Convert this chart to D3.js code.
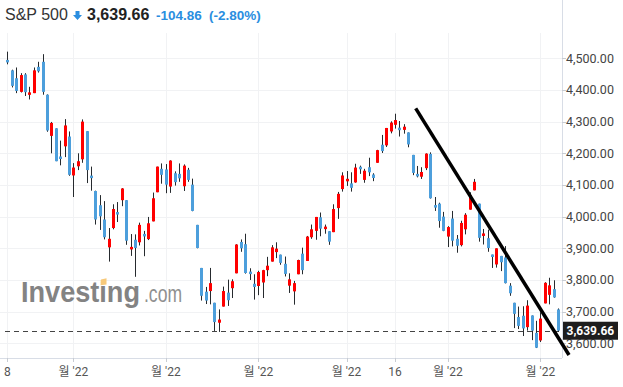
<!DOCTYPE html>
<html>
<head>
<meta charset="utf-8">
<script src="https://cdn.jsdelivr.net/npm/d3@7"></script>
<style>
  body { margin: 0; background: #fff; }
  svg { display: block; }
</style>
</head>
<body>
<div id="chart"></div>
<script>
// S&P 500 daily candles, Apr 8 - Oct 7 2022
var dates = ["04-08","04-11","04-12","04-13","04-14","04-18","04-19","04-20","04-21","04-22",
  "04-25","04-26","04-27","04-28","04-29","05-02","05-03","05-04","05-05","05-06",
  "05-09","05-10","05-11","05-12","05-13","05-16","05-17","05-18","05-19","05-20",
  "05-23","05-24","05-25","05-26","05-27","05-31","06-01","06-02","06-03","06-06",
  "06-07","06-08","06-09","06-10","06-13","06-14","06-15","06-16","06-17","06-21",
  "06-22","06-23","06-24","06-27","06-28","06-29","06-30","07-01","07-05","07-06",
  "07-07","07-08","07-11","07-12","07-13","07-14","07-15","07-18","07-19","07-20",
  "07-21","07-22","07-25","07-26","07-27","07-28","07-29","08-01","08-02","08-03",
  "08-04","08-05","08-08","08-09","08-10","08-11","08-12","08-15","08-16","08-17",
  "08-18","08-19","08-22","08-23","08-24","08-25","08-26","08-29","08-30","08-31",
  "09-01","09-02","09-06","09-07","09-08","09-09","09-12","09-13","09-14","09-15",
  "09-16","09-19","09-20","09-21","09-22","09-23","09-26","09-27","09-28","09-29",
  "09-30","10-03","10-04","10-05","10-06","10-07"]

var open = [4494,4462,4437,4394,4449,4385,4390,4473,4489,4385,
  4255,4279,4188,4222,4253,4130,4159,4181,4270,4128,
  4081,4036,3991,3903,3964,4013,4052,4052,3900,3927,
  3919,3942,3929,3985,4077,4151,4149,4095,4137,4135,
  4096,4148,4101,3974,3838,3763,3765,3728,3665,3716,
  3760,3774,3821,3920,3913,3826,3788,3781,3792,3831,
  3858,3888,3880,3851,3782,3764,3818,3883,3860,3935,
  3955,3998,3962,3954,3951,4027,4087,4112,4105,4108,
  4155,4116,4156,4133,4170,4227,4225,4269,4290,4280,
  4274,4266,4195,4133,4126,4153,4198,4034,4041,4000,
  3937,3994,3930,3910,3960,4022,4083,4041,3940,3932,
  3880,3849,3876,3871,3782,3728,3683,3687,3651,3688,
  3633,3609,3726,3753,3771,3707]

var high = [4521,4464,4471,4453,4453,4410,4471,4489,4513,4386,
  4299,4279,4240,4308,4269,4169,4200,4307,4270,4158,
  4082,4068,4049,3964,4039,4046,4090,4052,3945,3944,
  3981,3955,3999,4076,4158,4168,4166,4178,4143,4168,
  4165,4154,4120,3974,3838,3778,3838,3728,3707,3779,
  3801,3802,3913,3928,3946,3837,3818,3829,3832,3873,
  3910,3919,3880,3874,3821,3797,3864,3902,3939,3975,
  3999,4013,3975,3954,4039,4078,4140,4144,4140,4167,
  4161,4151,4186,4137,4211,4258,4280,4301,4325,4302,
  4292,4266,4195,4160,4156,4200,4203,4062,4044,4015,
  3970,4018,3942,3987,4011,4077,4119,4041,3961,3959,
  3880,3900,3876,3907,3790,3728,3716,3717,3736,3688,
  3671,3698,3793,3807,3799,3710]

var low = [4481,4408,4390,4392,4381,4370,4390,4455,4385,4268,
  4200,4175,4162,4188,4129,4062,4147,4170,4106,4082,
  3975,3958,3928,3858,3960,3983,4033,3911,3876,3810,
  3909,3875,3926,3985,4077,4104,4074,4075,4098,4110,
  4081,4110,4017,3900,3735,3724,3723,3639,3636,3716,
  3718,3743,3821,3889,3820,3800,3738,3752,3743,3812,
  3858,3869,3848,3811,3759,3722,3818,3818,3860,3930,
  3927,3938,3946,3911,3951,3993,4079,4097,4079,4107,
  4135,4107,4128,4112,4170,4201,4220,4263,4278,4253,
  4262,4219,4131,4124,4119,4147,4057,4018,3965,3954,
  3904,3906,3886,3906,3944,4022,4083,3921,3912,3889,
  3838,3839,3828,3789,3750,3648,3645,3623,3640,3610,
  3585,3604,3726,3723,3744,3636]

var close = [4488,4413,4397,4447,4393,4392,4462,4459,4394,4272,
  4296,4175,4184,4288,4132,4155,4175,4300,4147,4123,
  3991,4001,3935,3930,4024,4008,4089,3924,3901,3901,
  3974,3941,3979,4058,4158,4132,4101,4177,4109,4121,
  4161,4116,4018,3901,3750,3735,3790,3667,3675,3765,
  3736,3796,3912,3900,3822,3819,3778,3825,3831,3845,
  3903,3899,3854,3819,3802,3790,3863,3831,3937,3960,
  3999,3962,3967,3921,4024,4072,4130,4119,4091,4155,
  4152,4145,4140,4122,4210,4207,4280,4297,4305,4274,
  4284,4228,4138,4129,4141,4199,4058,4031,3986,3955,
  3967,3924,3908,3980,4006,4067,4110,3933,3946,3901,
  3873,3900,3856,3790,3758,3693,3655,3647,3719,3640,
  3586,3678,3791,3783,3745,3640]

var lastPrice = 3639.66
var yTicks = [3600, 3700, 3800, 3900, 4000, 4100, 4200, 4300, 4400, 4500]
var xTickDates = ["04-08","05-02","06-01","07-01","08-01","08-16","09-01","10-03"]
var xTickLabels = ["8", "월 '22", "월 '22", "월 '22", "월 '22", "16", "월 '22", "월 '22"]

// hand drawn trend line (index on the date axis, price)
var trendIdx = [92.7, 127.5]
var trendPrice = [4342, 3563]

var width = 623, height = 387
var plotRight = 562, plotTop = 33, plotBottom = 358

var svg = d3.select("#chart")
  .append("svg")
    .attr("width", width)
    .attr("height", height)

var x = d3.scaleLinear()
  .domain([0, dates.length - 1])
  .range([7.3, 558])

var y = d3.scaleLinear()
  .domain([3600, 4500])
  .range([343.3, 58.3])

// grid
svg.append("g")
  .selectAll("line")
  .data(yTicks)
  .enter()
  .append("line")
    .attr("x1", 0)
    .attr("x2", plotRight)
    .attr("y1", function(d){ return Math.round(y(d)) + 0.5 })
    .attr("y2", function(d){ return Math.round(y(d)) + 0.5 })
    .attr("stroke", "#f1f2f4")

svg.append("g")
  .selectAll("line")
  .data(xTickDates)
  .enter()
  .append("line")
    .attr("x1", function(d){ return Math.round(x(dates.indexOf(d))) + 0.5 })
    .attr("x2", function(d){ return Math.round(x(dates.indexOf(d))) + 0.5 })
    .attr("y1", plotTop)
    .attr("y2", plotBottom)
    .attr("stroke", "#f1f2f4")

// watermark
var wm = svg.append("g")
wm.append("text")
  .attr("x", 21)
  .attr("y", 301.7)
  .attr("textLength", 119)
  .attr("lengthAdjust", "spacingAndGlyphs")
  .style("font-family", "'Liberation Sans', Arial, sans-serif")
  .style("font-weight", "bold")
  .style("font-size", "29px")
  .style("fill", "#838383")
  .text("Investing")
wm.append("text")
  .attr("x", 144)
  .attr("y", 301.7)
  .attr("textLength", 38)
  .attr("lengthAdjust", "spacingAndGlyphs")
  .style("font-family", "'Liberation Sans', Arial, sans-serif")
  .style("font-size", "23px")
  .style("fill", "#909090")
  .text(".com")
wm.append("polygon")
  .attr("points", "101,279.5 106.5,278.3 106.5,284.5 100.5,285.3")
  .attr("fill", "#f7c97a")

// dashed last price line
svg.append("line")
  .attr("x1", 5)
  .attr("x2", plotRight)
  .attr("y1", Math.round(y(lastPrice)) + 0.5)
  .attr("y2", Math.round(y(lastPrice)) + 0.5)
  .attr("stroke", "#444")
  .attr("stroke-dasharray", "5,4")

// candles
var idx = d3.range(dates.length)
var candles = svg.append("g")
candles.selectAll("line")
  .data(idx)
  .enter()
  .append("line")
    .attr("x1", function(i){ return Math.round(x(i)) + 0.5 })
    .attr("x2", function(i){ return Math.round(x(i)) + 0.5 })
    .attr("y1", function(i){ return y(high[i]) })
    .attr("y2", function(i){ return y(low[i]) })
    .attr("stroke", "#262a2e")
    .attr("stroke-width", 1)

candles.selectAll("rect")
  .data(idx)
  .enter()
  .append("rect")
    .attr("x", function(i){ return Math.round(x(i)) - 1 })
    .attr("width", 3)
    .attr("y", function(i){
      var top = y(Math.max(open[i], close[i]))
      var h = Math.abs(y(open[i]) - y(close[i]))
      return h < 2.5 ? top - (2.5 - h) / 2 : top
    })
    .attr("height", function(i){ return Math.max(2.5, Math.abs(y(open[i]) - y(close[i]))) })
    .attr("fill", function(i){ return close[i] >= open[i] ? "#ff0000" : "#4d9fdc" })

// right axis
svg.append("line")
  .attr("x1", plotRight + 0.5)
  .attr("x2", plotRight + 0.5)
  .attr("y1", 0)
  .attr("y2", plotBottom)
  .attr("stroke", "#d8dde6")

var yAxis = svg.append("g")
yAxis.selectAll("line")
  .data(yTicks)
  .enter()
  .append("line")
    .attr("x1", plotRight)
    .attr("x2", plotRight + 4)
    .attr("y1", function(d){ return Math.round(y(d)) + 0.5 })
    .attr("y2", function(d){ return Math.round(y(d)) + 0.5 })
    .attr("stroke", "#c8ccd2")
yAxis.selectAll("text")
  .data(yTicks)
  .enter()
  .append("text")
    .attr("x", 566)
    .attr("y", function(d){ return y(d) + 4.5 })
    .style("font-family", "Roboto, sans-serif")
    .style("font-size", "12.5px")
    .style("fill", "#444")
    .text(function(d){ return d3.format(",.2f")(d) })

// bottom axis
svg.append("line")
  .attr("x1", 0)
  .attr("x2", plotRight)
  .attr("y1", plotBottom + 0.5)
  .attr("y2", plotBottom + 0.5)
  .attr("stroke", "#d8dde6")

var xAxis = svg.append("g")
xAxis.selectAll("line")
  .data(xTickDates)
  .enter()
  .append("line")
    .attr("x1", function(d){ return Math.round(x(dates.indexOf(d))) + 0.5 })
    .attr("x2", function(d){ return Math.round(x(dates.indexOf(d))) + 0.5 })
    .attr("y1", plotBottom)
    .attr("y2", plotBottom + 4)
    .attr("stroke", "#c8ccd2")
xAxis.selectAll("text")
  .data(xTickDates)
  .enter()
  .append("text")
    .attr("x", function(d){ return x(dates.indexOf(d)) })
    .attr("y", 376)
    .attr("text-anchor", "middle")
    .style("font-family", "Roboto, 'Noto Sans CJK KR', sans-serif")
    .style("font-size", "12px")
    .style("fill", "#555")
    .text(function(d, i){ return xTickLabels[i] })

// last price tag
var tagY = y(lastPrice)
svg.append("rect")
  .attr("x", 563)
  .attr("y", tagY - 9)
  .attr("width", 55)
  .attr("height", 18)
  .attr("fill", "#1e1e1e")
svg.append("text")
  .attr("x", 566.5)
  .attr("y", tagY + 4.5)
  .style("font-family", "Roboto, sans-serif")
  .style("font-size", "12px")
  .style("font-weight", "bold")
  .style("fill", "#fff")
  .text(d3.format(",.2f")(lastPrice))

// trend line
svg.append("line")
  .attr("x1", x(trendIdx[0]))
  .attr("y1", y(trendPrice[0]))
  .attr("x2", x(trendIdx[1]))
  .attr("y2", y(trendPrice[1]))
  .attr("stroke", "#000")
  .attr("stroke-width", 3.5)

// header
var head = svg.append("g")
  .style("font-family", "'Liberation Sans', Arial, sans-serif")
head.append("text")
  .attr("x", 5)
  .attr("y", 20)
  .style("font-size", "16px")
  .style("fill", "#333")
  .text("S&P 500")
head.append("path")
  .attr("d", "M75.5,11 h4 v4 h2.5 l-4.5,5 l-4.5,-5 h2.5 z")
  .attr("fill", "#2a8ee0")
head.append("text")
  .attr("x", 87)
  .attr("y", 20)
  .style("font-size", "16px")
  .style("font-weight", "bold")
  .style("fill", "#222")
  .text("3,639.66")
head.append("text")
  .attr("x", 156)
  .attr("y", 20)
  .style("font-size", "13.5px")
  .style("font-weight", "bold")
  .style("fill", "#2a8ee0")
  .text("-104.86")
head.append("text")
  .attr("x", 209)
  .attr("y", 20)
  .style("font-size", "13.5px")
  .style("font-weight", "bold")
  .style("fill", "#2a8ee0")
  .text("(-2.80%)")
</script>
</body>
</html>
